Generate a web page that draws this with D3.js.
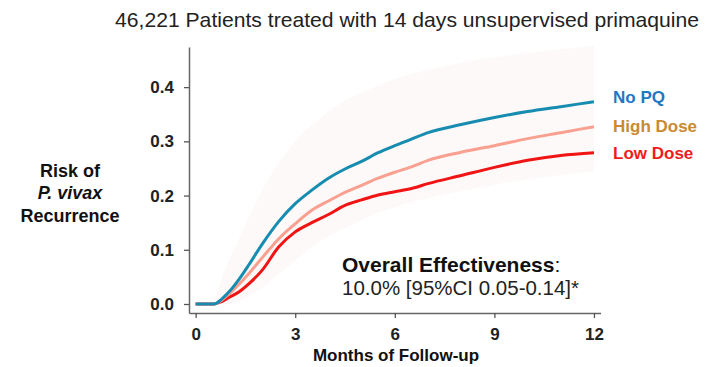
<!DOCTYPE html>
<html><head><meta charset="utf-8">
<script src="https://cdn.jsdelivr.net/npm/d3@7"></script>
<style>body{margin:0;background:#fff;} text{font-family:"Liberation Sans",Arial,sans-serif;}</style>
</head><body><svg id="c" width="709" height="367"></svg>
<script>
const months = [0, 0.55, 0.8, 1.0, 1.3, 1.6, 2.0, 2.5, 3.0, 3.5, 4.0, 4.5, 5.0, 5.5, 6.0, 6.5, 7.0, 8.0, 9.0, 10.0, 11.0, 12.0];
const noPQ =     [0, 0, 0.010, 0.022, 0.045, 0.072, 0.110, 0.152, 0.185, 0.210, 0.232, 0.249, 0.263, 0.279, 0.292, 0.304, 0.316, 0.331, 0.344, 0.355, 0.364, 0.373];
const highDose = [0, 0, 0.008, 0.018, 0.036, 0.056, 0.085, 0.120, 0.148, 0.173, 0.190, 0.206, 0.219, 0.232, 0.243, 0.253, 0.265, 0.280, 0.292, 0.305, 0.316, 0.327];
const lowDose =  [0, 0, 0.005, 0.012, 0.022, 0.037, 0.062, 0.105, 0.133, 0.150, 0.165, 0.182, 0.192, 0.201, 0.207, 0.213, 0.222, 0.237, 0.252, 0.265, 0.274, 0.279];
const bandUpper = [null, 0, 0.05, 0.08, 0.12, 0.16, 0.21, 0.26, 0.30, 0.33, 0.355, 0.375, 0.39, 0.403, 0.415, 0.424, 0.432, 0.445, 0.455, 0.463, 0.470, 0.476];
const bandLower = [null, 0, 0, 0, 0.005, 0.015, 0.030, 0.055, 0.080, 0.105, 0.125, 0.140, 0.155, 0.168, 0.178, 0.187, 0.195, 0.208, 0.220, 0.230, 0.238, 0.245];
const xTicks = [0, 3, 6, 9, 12];
const yTicks = [0, 0.1, 0.2, 0.3, 0.4];
const seriesNames = ["No PQ", "High Dose", "Low Dose"];
const seriesValues = [noPQ, highDose, lowDose];

const svg = d3.select("#c");
const x = d3.scaleLinear().domain([-0.2, 12.2]).range([189, 600.6]);
const y = d3.scaleLinear().domain([-0.0166, 0.474]).range([313, 47]);

const lineColors = ["#168cb0", "#f9a090", "#f01414"];
const labelColors = ["#1f78c4", "#c98a30", "#ee1c1c"];
const labelBaselines = [103, 132, 159];

// confidence band
const bandData = months.map((m,i)=>({m, lo: bandLower[i], hi: bandUpper[i]})).filter(d=>d.hi!==null);
svg.append("path").datum(bandData)
  .attr("d", d3.area().x(d=>x(d.m)).y0(d=>y(d.lo)).y1(d=>y(d.hi)).curve(d3.curveMonotoneX))
  .attr("fill", "#fdf9f9");

// axes
const yAxis = svg.append("g").attr("transform", `translate(${x(-0.2)},0)`)
  .call(d3.axisLeft(y).tickValues(yTicks).tickFormat(d3.format(".1f")).tickSize(5).tickSizeOuter(0));
const xAxis = svg.append("g").attr("transform", `translate(0,${y(-0.0166)})`)
  .call(d3.axisBottom(x).tickValues(xTicks).tickFormat(d3.format("d")).tickSize(5).tickSizeOuter(0));
[yAxis, xAxis].forEach(g=>{
  g.select(".domain").attr("stroke", "#666").attr("stroke-width", 1.5);
  g.selectAll(".tick line").attr("stroke", "#555").attr("stroke-width", 1.3);
  g.selectAll(".tick text").attr("font-family", "Liberation Sans, Arial, sans-serif")
    .attr("font-size", 17).attr("font-weight", "bold").attr("fill", "#222");
});
yAxis.selectAll(".tick text").attr("x", -15);
xAxis.selectAll(".tick text").attr("y", 15);

// lines (draw in order: low, high, noPQ)
const line = d3.line().x(d=>x(d[0])).y(d=>y(d[1])).curve(d3.curveMonotoneX);
[2,1,0].forEach(k=>{
  svg.append("path").datum(months.map((m,i)=>[m, seriesValues[k][i]]))
    .attr("d", line).attr("fill", "none").attr("stroke", lineColors[k])
    .attr("stroke-width", 3).attr("stroke-linejoin", "round");
});

// series labels
seriesNames.forEach((n,k)=>{
  svg.append("text").attr("x", 613).attr("y", labelBaselines[k])
    .attr("font-size", 17).attr("font-weight", "bold").attr("fill", labelColors[k]).text(n);
});

// title
svg.append("text").attr("x", 115).attr("y", 27)
  .attr("font-size", 21).attr("fill", "#222")
  .attr("textLength", 584).attr("lengthAdjust", "spacingAndGlyphs")
  .text("46,221 Patients treated with 14 days unsupervised primaquine");

// y label
const yl = svg.append("text").attr("text-anchor", "middle").attr("font-size", 18).attr("font-weight", "bold").attr("fill", "#111");
yl.append("tspan").attr("x", 70).attr("y", 177).text("Risk of");
yl.append("tspan").attr("x", 70).attr("y", 199).attr("font-style", "italic").text("P. vivax");
yl.append("tspan").attr("x", 70).attr("y", 222).text("Recurrence");

// x label
svg.append("text").attr("x", 396).attr("y", 361).attr("text-anchor", "middle")
  .attr("font-size", 17).attr("font-weight", "bold").attr("fill", "#111").text("Months of Follow-up");

// annotation
const a1 = svg.append("text").attr("x", 342).attr("y", 272).attr("font-size", 21).attr("fill", "#111");
a1.append("tspan").attr("font-weight", "bold").text("Overall Effectiveness");
a1.append("tspan").text(":");
svg.append("text").attr("x", 342).attr("y", 295).attr("font-size", 20.5).attr("fill", "#222")
  .text("10.0% [95%CI 0.05-0.14]*");
</script></body></html>
